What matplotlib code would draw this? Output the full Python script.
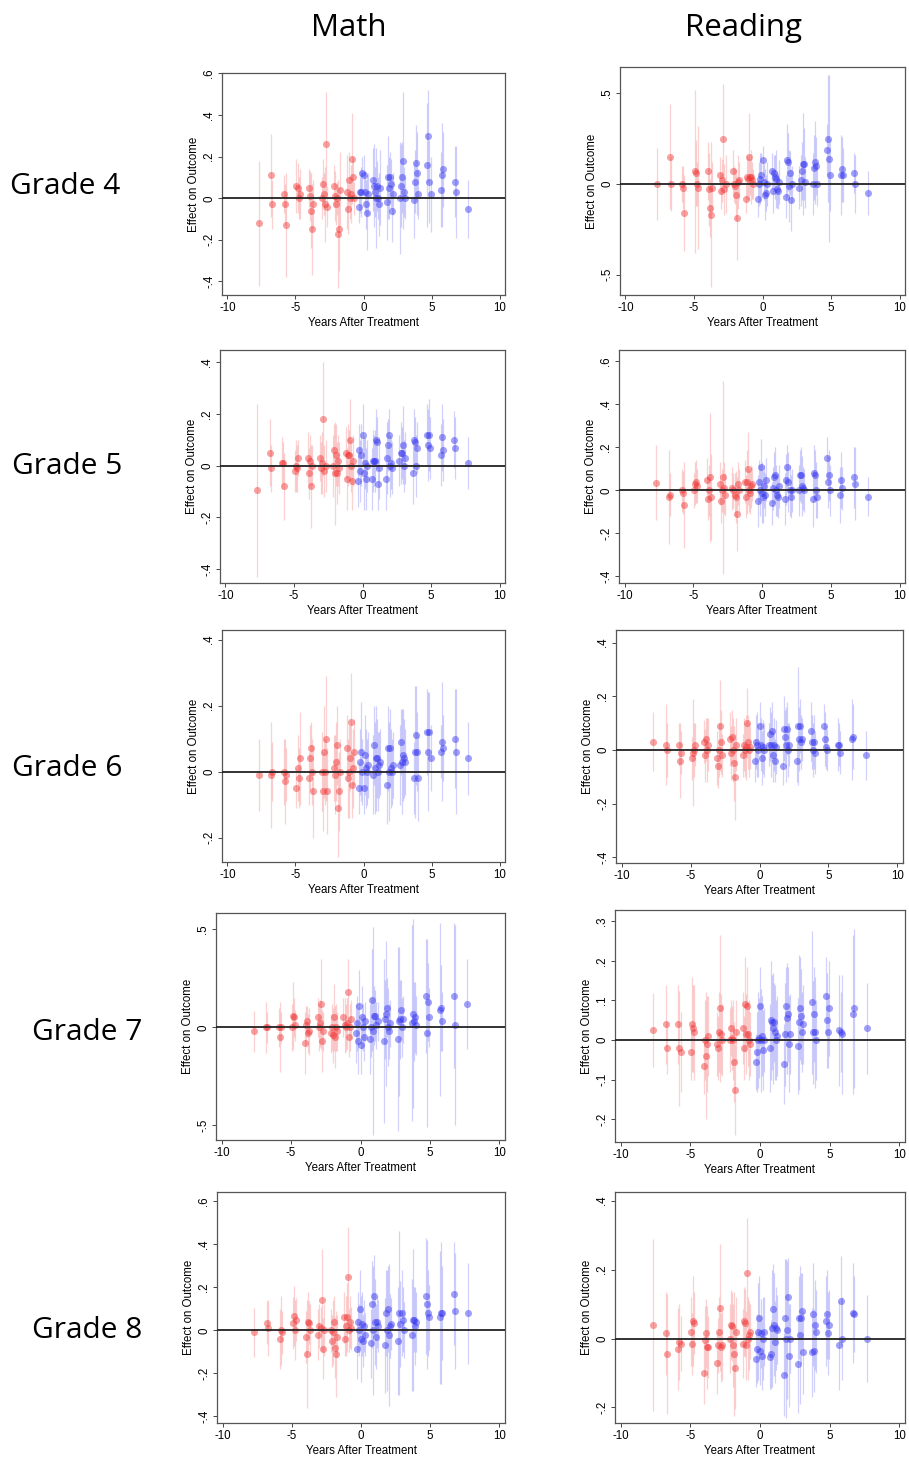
import matplotlib
matplotlib.use("Agg")
import matplotlib.pyplot as plt
import numpy as np

# ---------------- data ----------------
years = list(range(-8, 9))
n_cohorts = 9
subjects = ["Math", "Reading"]
grades = ["Grade 4", "Grade 5", "Grade 6", "Grade 7", "Grade 8"]
xlabel = "Years After Treatment"
ylabel = "Effect on Outcome"
xticks = [-10, -5, 0, 5, 10]

m4_est = [[-0.12], [0.11, -0.03], [0.02, -0.03, -0.13], [0.06, 0.05, 0.00, 0.02],
          [0.05, 0.01, -0.06, -0.15, -0.03], [0.00, 0.07, 0.02, -0.03, 0.26, -0.04],
          [0.06, 0.01, -0.03, 0.00, -0.17, -0.15, 0.04],
          [0.03, -0.05, 0.09, 0.00, 0.02, 0.19, 0.10, 0.00],
          [-0.04, 0.03, 0.03, 0.12, 0.11, 0.03, -0.03, -0.07, 0.02],
          [0.09, 0.06, 0.03, 0.00, 0.06, 0.00, -0.03, 0.05],
          [-0.02, 0.10, 0.05, 0.10, 0.07, -0.06, 0.02],
          [0.00, 0.06, 0.10, 0.18, 0.03, 0.00], [-0.01, 0.08, 0.17, 0.12, 0.02],
          [0.16, 0.30, 0.08, 0.02], [0.04, 0.11, 0.14], [0.08, 0.03], [-0.05]]
m4_hw = [[0.30], [0.20, 0.12], [0.09, 0.10, 0.25], [0.13, 0.12, 0.10, 0.12],
         [0.09, 0.12, 0.18, 0.22, 0.12], [0.10, 0.12, 0.10, 0.18, 0.25, 0.10],
         [0.10, 0.12, 0.10, 0.08, 0.26, 0.20, 0.18],
         [0.18, 0.12, 0.13, 0.10, 0.14, 0.22, 0.10, 0.08],
         [0.08, 0.10, 0.12, 0.08, 0.10, 0.10, 0.12, 0.18, 0.10],
         [0.15, 0.20, 0.12, 0.24, 0.12, 0.10, 0.15, 0.18],
         [0.18, 0.20, 0.15, 0.12, 0.12, 0.15, 0.10],
         [0.27, 0.20, 0.17, 0.33, 0.12, 0.10], [0.18, 0.15, 0.18, 0.20, 0.12],
         [0.30, 0.22, 0.20, 0.18], [0.18, 0.25, 0.18], [0.17, 0.22], [0.14]]

r4_est = [[0.00], [0.15, 0.00], [0.00, -0.02, -0.16], [0.07, 0.06, 0.00, -0.02],
          [0.07, -0.03, -0.13, -0.17, -0.02], [0.05, -0.04, 0.02, 0.25, -0.03, 0.00],
          [0.07, 0.00, -0.01, -0.06, -0.19, 0.01, 0.02],
          [-0.08, 0.04, 0.03, 0.15, 0.04, 0.04, 0.02, 0.00],
          [-0.08, 0.00, 0.03, 0.05, 0.13, 0.01, -0.06, -0.05, 0.00],
          [0.07, -0.04, 0.06, 0.04, 0.03, -0.03, -0.04, 0.01],
          [-0.07, 0.13, 0.12, -0.01, 0.06, -0.09, 0.00],
          [-0.02, 0.02, 0.07, 0.11, 0.11, 0.01], [0.00, 0.09, 0.12, 0.10, 0.00],
          [0.19, 0.25, 0.14, 0.05], [0.05, 0.08, 0.05], [0.06, 0.00], [-0.05]]
r4_hw = [[0.20], [0.29, 0.15], [0.10, 0.12, 0.21], [0.45, 0.18, 0.12, 0.34],
         [0.16, 0.20, 0.16, 0.40, 0.14], [0.10, 0.10, 0.12, 0.30, 0.14, 0.16],
         [0.12, 0.10, 0.10, 0.14, 0.23, 0.15, 0.10],
         [0.08, 0.12, 0.12, 0.24, 0.10, 0.15, 0.10, 0.08],
         [0.10, 0.12, 0.14, 0.12, 0.08, 0.10, 0.14, 0.10, 0.12],
         [0.10, 0.12, 0.10, 0.12, 0.16, 0.10, 0.10, 0.12],
         [0.12, 0.20, 0.16, 0.20, 0.12, 0.17, 0.10],
         [0.12, 0.14, 0.16, 0.28, 0.20, 0.14], [0.17, 0.18, 0.23, 0.16, 0.12],
         [0.14, 0.35, 0.46, 0.20], [0.22, 0.18, 0.15], [0.11, 0.16], [0.12]]

m5_est = [[-0.095], [0.05, -0.01], [0.01, 0.01, -0.08], [-0.02, 0.00, -0.01, 0.03],
          [0.03, -0.03, 0.02, -0.08, 0.00], [0.03, -0.01, 0.01, 0.18, -0.02, 0.00],
          [0.00, 0.06, -0.03, 0.04, -0.03, 0.02, -0.01],
          [0.05, -0.05, 0.04, 0.04, 0.10, 0.00, -0.06, 0.02],
          [-0.06, 0.06, -0.02, 0.04, 0.12, -0.03, 0.01, -0.05, 0.00],
          [-0.05, 0.02, 0.02, 0.02, 0.10, 0.09, -0.07, -0.01],
          [-0.05, 0.03, 0.08, 0.12, 0.00, 0.01, -0.01],
          [0.02, 0.05, 0.05, 0.08, 0.00, 0.03], [-0.03, 0.10, 0.09, 0.00, 0.07],
          [0.12, 0.08, 0.12, 0.07], [0.04, 0.11, 0.06], [0.10, 0.07], [0.01]]
m5_hw = [[0.335], [0.13, 0.09], [0.10, 0.08, 0.13], [0.08, 0.10, 0.09, 0.07],
         [0.10, 0.10, 0.10, 0.16, 0.08], [0.09, 0.10, 0.12, 0.22, 0.10, 0.10],
         [0.12, 0.10, 0.20, 0.12, 0.12, 0.10, 0.10],
         [0.10, 0.12, 0.12, 0.10, 0.16, 0.10, 0.11, 0.10],
         [0.10, 0.10, 0.12, 0.12, 0.12, 0.14, 0.10, 0.12, 0.10],
         [0.12, 0.12, 0.10, 0.12, 0.12, 0.10, 0.10, 0.12],
         [0.12, 0.14, 0.10, 0.10, 0.12, 0.10, 0.10],
         [0.10, 0.12, 0.10, 0.15, 0.10, 0.10], [0.12, 0.12, 0.10, 0.12, 0.10],
         [0.12, 0.14, 0.14, 0.12], [0.12, 0.13, 0.12], [0.11, 0.12], [0.10]]

r5_est = [[0.035], [-0.03, -0.02], [0.00, -0.01, -0.07], [0.00, 0.03, 0.04, 0.02],
          [0.05, -0.04, 0.00, 0.06, -0.03], [0.03, -0.05, 0.00, 0.06, 0.01, -0.02],
          [0.01, 0.00, -0.02, -0.03, -0.11, 0.03, 0.00],
          [0.04, -0.03, 0.04, 0.10, 0.00, -0.01, 0.02, 0.03],
          [-0.05, 0.04, 0.00, 0.11, -0.01, -0.03, 0.02, -0.02, 0.05],
          [-0.06, 0.01, 0.06, 0.07, 0.00, -0.02, -0.03, 0.02],
          [-0.04, 0.05, 0.11, 0.04, 0.00, -0.03, 0.00],
          [0.00, 0.07, 0.07, 0.02, 0.01, 0.00], [-0.04, 0.08, 0.07, 0.00, -0.03],
          [0.15, 0.04, 0.07, 0.00], [-0.02, 0.05, 0.01], [0.06, 0.03], [-0.03]]
r5_hw = [[0.175], [0.22, 0.10], [0.10, 0.10, 0.20], [0.08, 0.10, 0.10, 0.08],
         [0.10, 0.10, 0.12, 0.30, 0.20], [0.10, 0.10, 0.10, 0.45, 0.12, 0.10],
         [0.10, 0.08, 0.10, 0.12, 0.17, 0.10, 0.10],
         [0.10, 0.10, 0.15, 0.17, 0.10, 0.10, 0.10, 0.08],
         [0.12, 0.10, 0.12, 0.13, 0.14, 0.12, 0.10, 0.10, 0.10],
         [0.10, 0.10, 0.12, 0.13, 0.12, 0.10, 0.10, 0.10],
         [0.12, 0.12, 0.10, 0.14, 0.12, 0.10, 0.10],
         [0.12, 0.12, 0.13, 0.14, 0.10, 0.10], [0.13, 0.13, 0.12, 0.13, 0.10],
         [0.10, 0.12, 0.12, 0.12], [0.13, 0.13, 0.10], [0.14, 0.17], [0.09]]

m6_est = [[-0.01], [-0.01, 0.00], [0.00, -0.03, -0.01], [-0.05, 0.01, -0.02, 0.04],
          [-0.02, 0.04, 0.07, 0.00, -0.06], [0.00, -0.06, 0.06, 0.00, 0.10, -0.06],
          [0.01, -0.01, 0.03, 0.08, -0.11, -0.06, 0.00],
          [0.07, -0.02, 0.00, 0.04, 0.15, -0.04, 0.01, 0.06],
          [-0.05, 0.03, 0.06, 0.00, -0.05, 0.05, 0.01, 0.00, 0.02],
          [-0.01, 0.08, 0.01, 0.04, 0.04, 0.00, 0.02, 0.03],
          [-0.04, 0.07, 0.00, 0.07, 0.01, 0.00, 0.02],
          [0.02, 0.09, 0.03, 0.05, 0.04, 0.03], [-0.02, 0.06, 0.11, 0.06, -0.02],
          [0.12, 0.06, 0.12, 0.04], [0.06, 0.09, 0.07], [0.10, 0.06], [0.04]]
m6_hw = [[0.11], [0.16, 0.09], [0.10, 0.13, 0.08], [0.06, 0.10, 0.09, 0.14],
         [0.08, 0.10, 0.08, 0.10, 0.14], [0.12, 0.12, 0.14, 0.10, 0.19, 0.13],
         [0.10, 0.12, 0.12, 0.12, 0.15, 0.12, 0.10],
         [0.10, 0.12, 0.14, 0.10, 0.15, 0.10, 0.12, 0.10],
         [0.08, 0.10, 0.15, 0.10, 0.08, 0.12, 0.12, 0.10, 0.10],
         [0.12, 0.12, 0.14, 0.16, 0.12, 0.12, 0.10, 0.10],
         [0.12, 0.13, 0.15, 0.12, 0.12, 0.10, 0.10],
         [0.12, 0.10, 0.16, 0.14, 0.12, 0.10], [0.11, 0.20, 0.15, 0.12, 0.13],
         [0.13, 0.18, 0.12, 0.10], [0.08, 0.18, 0.10], [0.15, 0.19], [0.11]]

r6_est = [[0.03], [0.02, 0.00], [0.02, -0.04, -0.01], [-0.03, -0.01, 0.00, 0.02],
          [0.03, -0.02, 0.04, 0.00, 0.02], [-0.03, -0.06, 0.00, 0.09, 0.03, -0.02],
          [0.04, -0.01, 0.05, 0.00, -0.05, -0.10, 0.02],
          [-0.02, 0.02, 0.00, 0.01, 0.10, 0.03, 0.00, 0.01],
          [-0.04, 0.03, 0.02, 0.00, 0.09, 0.02, -0.03, 0.01, 0.00],
          [0.02, 0.06, 0.02, 0.07, -0.02, 0.02, -0.04, 0.01],
          [-0.06, 0.08, 0.05, 0.02, 0.08, 0.00, 0.02],
          [-0.04, 0.09, 0.04, 0.09, 0.03, 0.04], [0.07, 0.03, 0.00, 0.03, -0.01],
          [0.09, 0.04, 0.01, 0.00], [0.02, 0.02, -0.01], [0.04, 0.05], [-0.02]]
r6_hw = [[0.11], [0.15, 0.10], [0.08, 0.14, 0.08], [0.08, 0.20, 0.10, 0.08],
         [0.08, 0.10, 0.08, 0.12, 0.10], [0.10, 0.08, 0.10, 0.17, 0.12, 0.08],
         [0.10, 0.10, 0.10, 0.12, 0.14, 0.16, 0.10],
         [0.08, 0.10, 0.10, 0.12, 0.13, 0.10, 0.10, 0.08],
         [0.08, 0.10, 0.12, 0.10, 0.09, 0.10, 0.10, 0.10, 0.10],
         [0.08, 0.10, 0.12, 0.11, 0.10, 0.10, 0.08, 0.10],
         [0.07, 0.12, 0.10, 0.14, 0.10, 0.10, 0.08],
         [0.08, 0.22, 0.12, 0.10, 0.10, 0.08], [0.11, 0.10, 0.10, 0.10, 0.08],
         [0.08, 0.10, 0.08, 0.08], [0.10, 0.08, 0.08], [0.15, 0.12], [0.09]]

m7_est = [[-0.02], [0.00, 0.00], [0.00, -0.05, 0.00], [0.00, 0.06, 0.05, 0.01],
          [-0.08, 0.01, 0.03, -0.03, -0.02], [0.05, 0.00, 0.02, 0.12, -0.07, -0.02],
          [-0.03, 0.00, -0.04, 0.05, -0.05, 0.00, -0.02],
          [0.05, 0.01, 0.00, 0.02, 0.18, -0.05, 0.00, 0.04],
          [-0.03, 0.02, -0.07, 0.11, -0.09, 0.05, 0.00, -0.05, 0.03],
          [-0.06, 0.00, 0.14, -0.02, 0.06, 0.06, 0.01, 0.03],
          [-0.07, 0.04, 0.07, 0.10, 0.00, -0.02, 0.02],
          [-0.06, 0.03, 0.04, 0.09, 0.00, 0.04], [0.02, 0.07, 0.03, 0.05, 0.01],
          [0.16, -0.03, 0.13, 0.05], [0.09, 0.10, 0.03], [0.16, 0.01], [0.12]]
m7_hw = [[0.105], [0.13, 0.08], [0.10, 0.18, 0.08], [0.12, 0.17, 0.10, 0.08],
         [0.16, 0.10, 0.08, 0.10, 0.12], [0.10, 0.12, 0.12, 0.23, 0.16, 0.10],
         [0.10, 0.12, 0.14, 0.17, 0.16, 0.12, 0.10],
         [0.10, 0.14, 0.12, 0.13, 0.17, 0.10, 0.12, 0.10],
         [0.15, 0.14, 0.17, 0.18, 0.15, 0.16, 0.12, 0.12, 0.10],
         [0.18, 0.15, 0.26, 0.53, 0.15, 0.13, 0.12, 0.10],
         [0.42, 0.20, 0.37, 0.15, 0.20, 0.14, 0.12],
         [0.47, 0.38, 0.20, 0.15, 0.15, 0.12], [0.50, 0.48, 0.20, 0.18, 0.15],
         [0.29, 0.48, 0.20, 0.15], [0.44, 0.22, 0.15], [0.37, 0.51], [0.23]]

r7_est = [[0.025], [0.04, -0.02], [0.04, -0.02, -0.03], [-0.03, 0.04, 0.03, 0.02],
          [-0.065, 0.00, -0.04, -0.01, 0.01], [-0.01, -0.02, 0.02, 0.08, 0.015, 0.00],
          [0.00, 0.03, 0.005, 0.00, -0.055, -0.125, 0.02],
          [0.03, -0.02, 0.09, 0.015, 0.085, 0.015, 0.00, -0.01],
          [-0.055, -0.03, 0.00, 0.005, 0.085, 0.00, 0.01, -0.025, 0.00],
          [-0.02, 0.05, 0.045, 0.03, 0.045, 0.02, 0.00, 0.01],
          [-0.06, 0.015, 0.085, 0.055, 0.065, -0.01, 0.015],
          [-0.015, 0.045, 0.08, 0.06, 0.02, 0.04], [0.095, 0.02, 0.065, 0.02, 0.00],
          [0.11, 0.05, 0.02, 0.08], [0.025, 0.02, 0.015], [0.065, 0.08], [0.03]]
r7_hw = [[0.093], [0.10, 0.065], [0.10, 0.145, 0.10], [0.07, 0.12, 0.11, 0.12],
         [0.07, 0.10, 0.16, 0.12, 0.10], [0.08, 0.08, 0.10, 0.185, 0.10, 0.09],
         [0.08, 0.07, 0.08, 0.10, 0.10, 0.115, 0.08],
         [0.09, 0.08, 0.12, 0.10, 0.10, 0.08, 0.10, 0.08],
         [0.07, 0.10, 0.12, 0.10, 0.10, 0.13, 0.10, 0.10, 0.08],
         [0.11, 0.15, 0.12, 0.14, 0.10, 0.12, 0.10, 0.10],
         [0.10, 0.13, 0.10, 0.14, 0.12, 0.12, 0.10],
         [0.12, 0.17, 0.13, 0.12, 0.10, 0.10], [0.18, 0.13, 0.12, 0.14, 0.10],
         [0.10, 0.12, 0.09, 0.12], [0.14, 0.10, 0.15], [0.20, 0.20], [0.115]]

m8_est = [[-0.01], [0.035, 0.01], [-0.04, 0.00, -0.01], [0.035, 0.065, 0.00, 0.05],
          [-0.03, -0.11, 0.04, 0.035, 0.00], [-0.02, 0.02, 0.01, 0.14, -0.085, 0.00],
          [0.00, -0.05, -0.01, 0.04, -0.08, -0.11, -0.03],
          [0.06, -0.04, 0.02, 0.06, 0.25, 0.00, 0.04, 0.01],
          [-0.085, 0.04, 0.00, 0.10, -0.04, 0.03, -0.05, 0.02, -0.02],
          [-0.06, 0.12, 0.00, 0.16, 0.04, -0.03, 0.04, 0.02],
          [-0.07, 0.08, 0.00, 0.10, -0.02, 0.02, 0.03],
          [-0.05, 0.08, 0.03, 0.08, 0.05, 0.00], [-0.02, 0.05, 0.05, 0.02, 0.04],
          [0.16, 0.12, 0.08, 0.06], [0.06, 0.08, 0.08], [0.17, 0.09], [0.08]]
m8_hw = [[0.115], [0.10, 0.13], [0.14, 0.16, 0.10], [0.12, 0.14, 0.14, 0.10],
         [0.12, 0.25, 0.14, 0.10, 0.12], [0.12, 0.10, 0.10, 0.24, 0.14, 0.12],
         [0.10, 0.12, 0.15, 0.12, 0.14, 0.20, 0.10],
         [0.12, 0.08, 0.14, 0.16, 0.23, 0.10, 0.12, 0.10],
         [0.14, 0.14, 0.12, 0.18, 0.20, 0.15, 0.12, 0.12, 0.10],
         [0.16, 0.20, 0.30, 0.19, 0.20, 0.15, 0.12, 0.12],
         [0.22, 0.20, 0.28, 0.20, 0.33, 0.15, 0.12],
         [0.25, 0.38, 0.20, 0.20, 0.15, 0.13], [0.26, 0.33, 0.15, 0.18, 0.14],
         [0.27, 0.30, 0.20, 0.15], [0.31, 0.33, 0.22], [0.24, 0.27], [0.235]]

r8_est = [[0.04], [0.015, -0.045], [-0.03, -0.01, -0.015], [0.02, -0.015, 0.05, 0.045],
          [-0.10, -0.005, 0.015, -0.025, -0.025], [-0.07, -0.02, 0.02, 0.09, -0.025, -0.02],
          [0.00, 0.04, 0.035, -0.02, -0.045, -0.085, 0.02],
          [-0.015, 0.05, 0.045, -0.02, 0.19, 0.00, 0.01, 0.02],
          [-0.06, -0.03, 0.02, 0.06, -0.035, 0.015, -0.05, 0.00, 0.02],
          [-0.055, -0.045, 0.03, 0.085, 0.04, -0.01, 0.03, 0.025],
          [-0.105, 0.06, 0.00, 0.025, 0.12, -0.05, 0.00],
          [-0.075, 0.06, 0.01, 0.06, 0.08, -0.04], [-0.04, 0.07, -0.035, 0.04, 0.02],
          [0.05, 0.07, 0.015, 0.04], [-0.02, 0.11, 0.00], [0.075, 0.07], [0.00]]
r8_hw = [[0.25], [0.12, 0.175], [0.12, 0.11, 0.08], [0.10, 0.09, 0.13, 0.09],
         [0.09, 0.10, 0.10, 0.12, 0.09], [0.09, 0.08, 0.10, 0.185, 0.10, 0.10],
         [0.10, 0.10, 0.10, 0.12, 0.18, 0.12, 0.10],
         [0.10, 0.10, 0.10, 0.10, 0.16, 0.12, 0.10, 0.08],
         [0.08, 0.10, 0.14, 0.12, 0.10, 0.10, 0.10, 0.12, 0.10],
         [0.09, 0.10, 0.17, 0.13, 0.15, 0.12, 0.12, 0.10],
         [0.12, 0.17, 0.23, 0.20, 0.115, 0.15, 0.10],
         [0.14, 0.12, 0.20, 0.13, 0.11, 0.12], [0.13, 0.15, 0.12, 0.13, 0.12],
         [0.13, 0.13, 0.12, 0.10], [0.13, 0.13, 0.12], [0.145, 0.11], [0.125]]

# y ticks per panel
m4_yt = [-0.4, -0.2, 0, 0.2, 0.4, 0.6]
r4_yt = [-0.5, 0, 0.5]
m5_yt = [-0.4, -0.2, 0, 0.2, 0.4]
r5_yt = [-0.4, -0.2, 0, 0.2, 0.4, 0.6]
m6_yt = [-0.2, 0, 0.2, 0.4]
r6_yt = [-0.4, -0.2, 0, 0.2, 0.4]
m7_yt = [-0.5, 0, 0.5]
r7_yt = [-0.2, -0.1, 0, 0.1, 0.2, 0.3]
m8_yt = [-0.4, -0.2, 0, 0.2, 0.4, 0.6]
r8_yt = [-0.2, 0, 0.2, 0.4]

# ---------------- layout / style ----------------
W, H = 909, 1458
fig = plt.figure(figsize=(W / 100, H / 100), dpi=100)
fig.patch.set_facecolor("white")

# panel boxes in pixels: (left, top, right, bottom), y-limits
panels = [
    (m4_est, m4_hw, m4_yt, (222, 73, 505, 295), (-0.465, 0.602)),
    (r4_est, r4_hw, r4_yt, (620, 67, 905, 295), (-0.612, 0.645)),
    (m5_est, m5_hw, m5_yt, (220, 350, 505, 583), (-0.454, 0.448)),
    (r5_est, r5_hw, r5_yt, (619, 350, 905, 583), (-0.431, 0.653)),
    (m6_est, m6_hw, m6_yt, (222, 630, 505, 862), (-0.274, 0.429)),
    (r6_est, r6_hw, r6_yt, (616, 630, 903, 863), (-0.421, 0.447)),
    (m7_est, m7_hw, m7_yt, (216, 913, 505, 1140), (-0.575, 0.583)),
    (r7_est, r7_hw, r7_yt, (615, 910, 905, 1142), (-0.257, 0.328)),
    (m8_est, m8_hw, m8_yt, (217, 1192, 505, 1423), (-0.431, 0.643)),
    (r8_est, r8_hw, r8_yt, (615, 1192, 905, 1423), (-0.245, 0.425)),
]

offsets = np.linspace(-0.3, 0.3, n_cohorts)
RED = "#f03030"
BLUE = "#3030f0"
FONT = "Liberation Sans"
FS = 8.3


def stata_fmt(v):
    if abs(v) < 1e-9:
        return "0"
    s = ("%g" % v)
    return s.replace("0.", ".")


for est, hw, yt, (l, t, r, b), ylim in panels:
    ax = fig.add_axes([l / W, 1 - b / H, (r - l) / W, (b - t) / H])
    for i, yr in enumerate(years):
        if yr < 0:
            cohorts = list(range(-yr, n_cohorts))
            col = RED
        else:
            cohorts = list(range(0, n_cohorts - yr))
            col = BLUE
        xs = [yr + offsets[c] for c in cohorts]
        ax.errorbar(xs, est[i], yerr=hw[i], fmt="none", ecolor=col,
                    elinewidth=0.9, alpha=0.22, capsize=0, zorder=2)
        ax.scatter(xs, est[i], s=26, color=col, alpha=0.45, linewidths=0, zorder=3)
    ax.axhline(0, color="#222222", lw=1.3, zorder=4)
    ax.set_xlim(-10.4, 10.4)
    ax.set_ylim(*ylim)
    ax.set_xticks(xticks)
    ax.set_xticklabels([str(x) for x in xticks], fontsize=FS, family=FONT)
    ax.set_yticks(yt)
    ax.set_yticklabels([stata_fmt(v) for v in yt], fontsize=FS, family=FONT,
                       rotation=90, va="center")
    ax.tick_params(direction="out", length=3, width=0.7, color="#444444", pad=2)
    for side in ["left", "bottom", "right", "top"]:
        ax.spines[side].set_color("#555555")
        ax.spines[side].set_linewidth(0.9)
    ax.set_xlabel(xlabel, fontsize=FS, family=FONT, labelpad=2)
    ax.set_ylabel(ylabel, fontsize=FS, family=FONT, labelpad=2)

# column titles
fig.text(349 / W, 1 - 28 / H, subjects[0], fontsize=22.5, family="Open Sans",
         ha="center", va="center")
fig.text(743 / W, 1 - 28 / H, subjects[1], fontsize=22.5, family="Open Sans",
         ha="center", va="center")

# row labels
row_pos = [(10, 187), (12, 467), (12, 768), (32, 1032), (32, 1330)]
for g, (x, y) in zip(grades, row_pos):
    fig.text(x / W, 1 - y / H, g, fontsize=21.5, family="Open Sans",
             ha="left", va="center")

fig.savefig("out.png", dpi=100, facecolor="white")
